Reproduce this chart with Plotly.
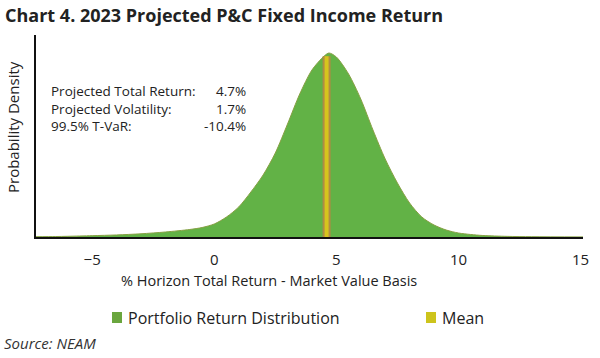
import plotly.graph_objects as go

# Distribution curve (% return, probability density)
returns = [-7.3, -6.5, -6.0, -5.0, -4.0, -3.0, -2.0, -1.0, -0.5, 0.0, 0.5, 1.0, 1.5, 2.0, 2.5,
           3.0, 3.5, 4.0, 4.5, 4.7, 5.0, 5.5, 6.0, 6.5, 7.0, 7.5, 8.0, 8.5, 9.0, 9.5, 10.0,
           10.5, 11.0, 12.0, 13.0, 15.1]
density = [0.0004, 0.0006, 0.0009, 0.0017, 0.0026, 0.0041, 0.0064, 0.0096, 0.0121, 0.0166,
           0.0255, 0.0383, 0.0575, 0.0792, 0.1073, 0.1443, 0.1826, 0.2133, 0.2311, 0.235,
           0.2299, 0.2082, 0.1762, 0.1366, 0.0996, 0.0690, 0.0434, 0.0255, 0.0153, 0.0089,
           0.0051, 0.0032, 0.0019, 0.0008, 0.0004, 0.0001]
mean_x = 4.6
mean_top = 0.231

x_ticks = [-5, 0, 5, 10, 15]
stat_labels = ["Projected Total Return:", "Projected Volatility:", "99.5% T-VaR:"]
stat_values = ["4.7%", "1.7%", "-10.4%"]
legend_names = ["Portfolio Return Distribution", "Mean"]
legend_colors = ["#6aa63e", "#cdc41c"]

GREEN = "#62b246"
FONT = "Open Sans"
TXT = "#222"

fig = go.Figure()
fig.add_trace(go.Scatter(x=returns, y=density, mode="lines",
                         line=dict(color="#86a043", width=1, shape="spline", smoothing=0.8),
                         fill="tozeroy", fillcolor=GREEN, showlegend=False, hoverinfo="skip"))
fig.add_trace(go.Scatter(x=[mean_x, mean_x], y=[0, mean_top], mode="lines",
                         line=dict(color="#b08c44", width=8), showlegend=False, hoverinfo="skip"))
fig.add_trace(go.Scatter(x=[mean_x, mean_x], y=[0, mean_top], mode="lines",
                         line=dict(color="#d6c51d", width=4), showlegend=False, hoverinfo="skip"))

def py(p):
    return 1 - p / 358

anns = [
    dict(x=49 / 600, y=py(108), xref="paper", yref="paper", text="<br>".join(stat_labels), showarrow=False,
         xanchor="left", yanchor="middle", align="left", font=dict(size=13.5, color=TXT, family=FONT)),
    dict(x=248 / 600, y=py(108), xref="paper", yref="paper", text="<br>".join(stat_values), showarrow=False,
         xanchor="right", yanchor="middle", align="right", font=dict(size=13.5, color=TXT, family=FONT)),
]

# manual legend
shapes = []
for name, col, sx in zip(legend_names, legend_colors, [112, 426]):
    shapes.append(dict(type="rect", xref="paper", yref="paper", x0=sx / 600, x1=(sx + 10) / 600,
                       y0=py(323), y1=py(312), fillcolor=col, line=dict(width=0)))
    anns.append(dict(x=(sx + 14) / 600, y=py(318), xref="paper", yref="paper", text=name, showarrow=False,
                     xanchor="left", yanchor="middle", font=dict(size=16, color=TXT, family=FONT)))

anns += [
    dict(x=3 / 600, y=py(15), xref="paper", yref="paper",
         text="<b>Chart 4. 2023 Projected P&C Fixed Income Return</b>",
         showarrow=False, xanchor="left", yanchor="middle", font=dict(size=18, color=TXT, family=FONT)),
    dict(x=13 / 600, y=py(127), xref="paper", yref="paper", text="Probability Density", textangle=-90,
         showarrow=False, xanchor="center", yanchor="middle", font=dict(size=15, color=TXT, family=FONT)),
    dict(x=2 / 600, y=py(343), xref="paper", yref="paper", text="<i>Source: NEAM</i>",
         showarrow=False, xanchor="left", yanchor="middle", font=dict(size=15, color="#333", family=FONT)),
    dict(x=269 / 600, y=py(280), xref="paper", yref="paper", text="% Horizon Total Return - Market Value Basis",
         showarrow=False, xanchor="center", yanchor="middle", font=dict(size=14.5, color=TXT, family=FONT)),
]

fig.update_layout(
    width=600, height=358,
    margin=dict(l=0, r=0, t=0, b=0, autoexpand=False),
    paper_bgcolor="white", plot_bgcolor="white",
    font=dict(family=FONT, color=TXT),
    showlegend=False,
    xaxis=dict(domain=[36 / 600, 583 / 600], range=[-7.3, 15.1], tickvals=x_ticks, showgrid=False,
               zeroline=False, showline=True, linecolor="#111", linewidth=1.5, ticks="outside",
               ticklen=8, tickcolor="rgba(0,0,0,0)",
               tickfont=dict(size=15, color=TXT), anchor="y", automargin=False),
    yaxis=dict(domain=[py(237), py(35)], range=[0, 0.258], showgrid=False, zeroline=False,
               showline=True, linecolor="#111", linewidth=1.5, showticklabels=False, ticks="",
               anchor="x", automargin=False),
    shapes=shapes,
    annotations=anns,
)

fig.write_html("out.html", config={"displayModeBar": False},
               post_script="document.body.style.margin='0';")
